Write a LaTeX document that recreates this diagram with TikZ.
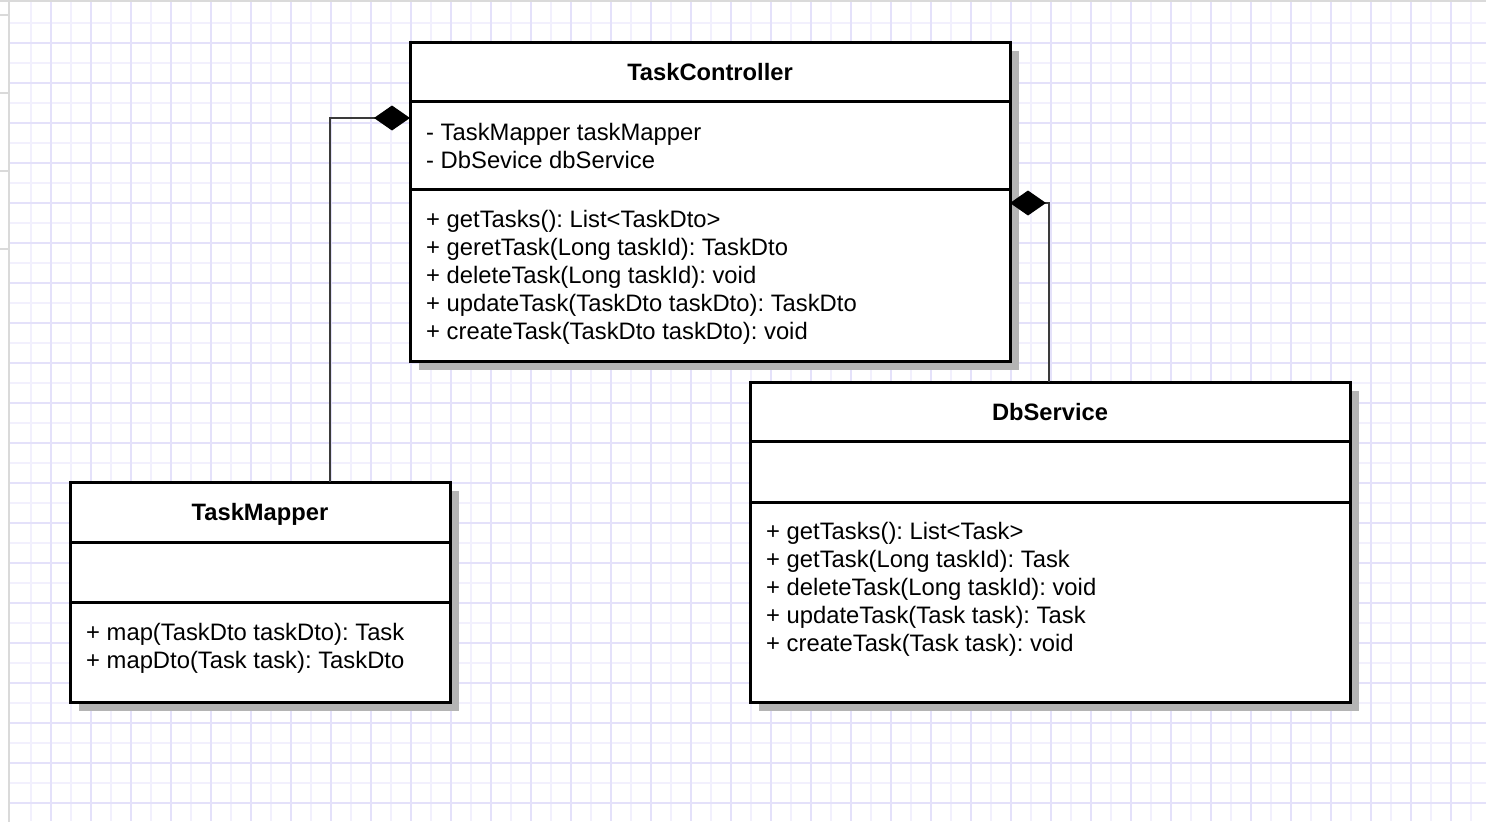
\documentclass[tikz,border=0pt]{standalone}
\usepackage{fontspec}
\setmainfont{Liberation Sans}
\usetikzlibrary{arrows.meta}
\frenchspacing
\definecolor{gridminor}{HTML}{F2F0FD}
\definecolor{gridmajor}{HTML}{E4E1FA}
\definecolor{shadowgray}{HTML}{B4B4B4}
\definecolor{edgegray}{HTML}{DADADA}
\definecolor{conncol}{HTML}{3A3A3A}
\tikzset{
  classbox/.style={draw=black, line width=3pt, fill=white, rectangle, inner sep=0pt, outer sep=0pt, anchor=north west},
  sepline/.style={black, line width=3pt},
  shadowbox/.style={fill=shadowgray, draw=none},
  shadowline/.style={shadowgray, line width=3pt},
  titletext/.style={font=\fontsize{23.7pt}{28pt}\selectfont\bfseries, inner sep=0pt, anchor=base},
  mtext/.style={font=\fontsize{23.8pt}{28pt}\selectfont, inner sep=0pt, anchor=base west},
  conn/.style={conncol, line width=2pt, -{Diamond[length=36pt,width=25pt,color=black]}},
}
\begin{document}
\begin{tikzpicture}[x=1pt,y=-1pt]
\useasboundingbox (0,0) rectangle (1486,822);
\fill[white] (0,0) rectangle (1486,822);
% grid background
\begin{scope}
\clip (10,2) rectangle (1486,820);
\foreach \x in {31,71,...,1486} \draw[gridminor, line width=2pt] (\x,0) -- (\x,822);
\foreach \y in {23,63,...,822} \draw[gridminor, line width=2pt] (0,\y) -- (1486,\y);
\foreach \x in {51,91,...,1486} \draw[gridmajor, line width=2pt] (\x,0) -- (\x,822);
\foreach \y in {43,83,...,822} \draw[gridmajor, line width=2pt] (0,\y) -- (1486,\y);
\end{scope}
\fill[edgegray] (0,0) rectangle (1486,2);
\fill[edgegray] (8,0) rectangle (10,822);
\foreach \y in {15,93,171,249} \draw[edgegray, line width=1.5pt] (0,\y) -- (8,\y);

% shadows
\fill[shadowbox] (419,51) rectangle (1019,370);
\draw[shadowline] (1010,110) -- (1019,110);
\draw[shadowline] (1010,198) -- (1019,198);
\fill[shadowbox] (79,491) rectangle (459,711);
\draw[shadowline] (450,551) -- (459,551);
\draw[shadowline] (450,611) -- (459,611);
\fill[shadowbox] (759,391) rectangle (1359,711);
\draw[shadowline] (1350,450) -- (1359,450);
\draw[shadowline] (1350,511) -- (1359,511);

% TaskController
\node[classbox, minimum width=600pt, minimum height=319pt] (tc) at (410,42) {};
\draw[sepline] (410,101) -- (1010,101);
\draw[sepline] (410,189) -- (1010,189);
\node[titletext] (tct) at (710,80.5) {TaskController};
\node[mtext] (tca1) at (426,140.5) {- TaskMapper taskMapper};
\node[mtext] (tca2) at (426,168.5) {- DbSevice dbService};
\node[mtext] (tcm1) at (426,227.5) {+ getTasks(): List<TaskDto>};
\node[mtext] (tcm2) at (426,255.5) {+ geretTask(Long taskId): TaskDto};
\node[mtext] (tcm3) at (426,283.5) {+ deleteTask(Long taskId): void};
\node[mtext] (tcm4) at (426,311.5) {+ updateTask(TaskDto taskDto): TaskDto};
\node[mtext] (tcm5) at (426,339.5) {+ createTask(TaskDto taskDto): void};

% TaskMapper
\node[classbox, minimum width=380pt, minimum height=220pt] (tm) at (70,482) {};
\draw[sepline] (70,542) -- (450,542);
\draw[sepline] (70,602) -- (450,602);
\node[titletext] (tmt) at (260,520.5) {TaskMapper};
\node[mtext] (tmm1) at (86,640.5) {+ map(TaskDto taskDto): Task};
\node[mtext] (tmm2) at (86,668.5) {+ mapDto(Task task): TaskDto};

% DbService
\node[classbox, minimum width=600pt, minimum height=320pt] (db) at (750,382) {};
\draw[sepline] (750,441) -- (1350,441);
\draw[sepline] (750,502) -- (1350,502);
\node[titletext] (dbt) at (1050,420.5) {DbService};
\node[mtext] (dbm1) at (766,539.5) {+ getTasks(): List<Task>};
\node[mtext] (dbm2) at (766,567.5) {+ getTask(Long taskId): Task};
\node[mtext] (dbm3) at (766,595.5) {+ deleteTask(Long taskId): void};
\node[mtext] (dbm4) at (766,623.5) {+ updateTask(Task task): Task};
\node[mtext] (dbm5) at (766,651.5) {+ createTask(Task task): void};

% connectors
\coordinate (a1) at (330,118);
\coordinate (a2) at (1049,203);
\draw[conn] (tm.north -| a1) |- (tc.west |- a1);
\draw[conn] (db.north -| a2) |- (tc.east |- a2);
\end{tikzpicture}
\end{document}
